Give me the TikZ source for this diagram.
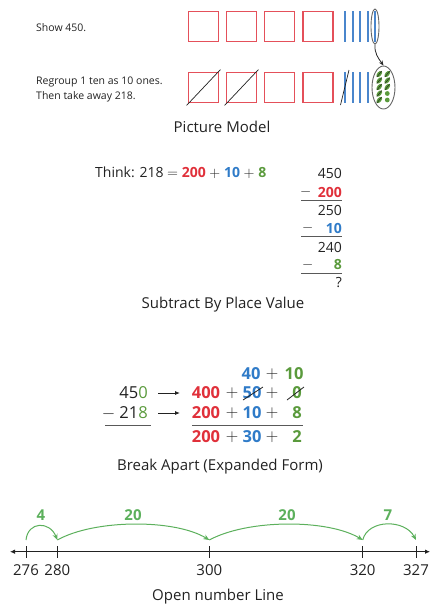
\documentclass[tikz,border=0pt]{standalone}
\usepackage{fontspec}
\setmainfont{Open Sans}
\usetikzlibrary{arrows.meta,shapes.geometric}
\definecolor{tenred}{HTML}{E4505A}
\definecolor{numred}{HTML}{E0303A}
\definecolor{numblue}{HTML}{2F7BC8}
\definecolor{numgreen}{HTML}{5A9A3C}
\definecolor{arcgreen}{HTML}{5CB05C}
\definecolor{rodblue}{HTML}{4A86CC}
\definecolor{ink}{HTML}{222222}
\newcommand{\rd}[1]{\textcolor{numred}{\bfseries #1}}
\newcommand{\bl}[1]{\textcolor{numblue}{\bfseries #1}}
\newcommand{\gr}[1]{\textcolor{numgreen}{\bfseries #1}}
\newcommand{\mns}{\ensuremath{-}}
\newcommand{\pls}{\ensuremath{+}}
\begin{document}
\begin{tikzpicture}[x=1pt,y=-1pt,
  every node/.style={text=ink, inner sep=0pt},
  hund/.style={draw=tenred, line width=1.8pt, minimum size=30pt, inner sep=0pt},
  rod/.style={draw=rodblue, line width=2pt},
  note/.style={font=\fontsize{10.5}{12}\selectfont, anchor=west},
  title/.style={font=\fontsize{15}{17}\selectfont},
  calc/.style={font=\fontsize{14}{16}\selectfont},
  numl/.style={font=\fontsize{15}{17}\selectfont},
  big/.style={font=\fontsize{16.5}{18}\selectfont},
  strike/.style={draw=ink, line width=0.7pt},
  rule/.style={draw=gray!70!black, line width=0.8pt},
  arc/.style={draw=arcgreen, line width=1pt, -{Stealth[length=6pt,width=5pt]}},
  jump/.style={font=\fontsize{15}{17}\selectfont\bfseries, text=arcgreen},
  tick/.style={draw=ink, line width=0.9pt},
  leaf/.style={fill=numgreen, ellipse, minimum width=4.2pt, minimum height=7.5pt, rotate=-40},
  dot/.style={fill=numgreen, circle, minimum size=4.8pt}
]
\useasboundingbox (0,0) rectangle (432,606);

% ---------- Picture model ----------
\node[note] (show) at (36,28) {Show 450.};
\node[note] (regroup) at (36,82) {Regroup 1 ten as 10 ones.};
\node[note] (take) at (36,97) {Then take away 218.};

\foreach \i/\x in {1/203.5,2/241.5,3/279.5,4/318} {
  \node[hund] (ha\i) at (\x,26.5) {};
  \node[hund] (hb\i) at (\x,87.5) {};
}
\draw[strike] (hb1.south west) ++(-1,2) -- ([shift={(1,-2)}]hb1.north east);
\draw[strike] (hb2.south west) ++(-1,2) -- ([shift={(1,-2)}]hb2.north east);

\foreach \x in {345,352.5,360,367.5,375} \draw[rod] (\x,11) -- (\x,42);
\foreach \x in {345,352.5,360,367.5} \draw[rod] (\x,72) -- (\x,103);
\draw[strike] (340.5,105) -- (349,70);

\node[draw=gray!80!black, line width=0.9pt, ellipse, minimum width=8pt, minimum height=35pt] (grp) at (375,26.5) {};
\node[draw=gray!80!black, line width=0.9pt, ellipse, minimum width=23pt, minimum height=43pt] (ones) at (383.5,87.5) {};
\draw[draw=gray!30!black, line width=0.8pt, -{Stealth[length=5pt,width=4pt]}] (grp.south) to[out=-95,in=125] (ones.north);

\foreach \y in {74,80.5,87,93.5,100} {
  \node[leaf] at (379.3,\y) {};
  \draw[strike, line width=0.45pt] (376.8,\y+3) -- (381.8,\y-3);
}
\foreach \y in {74,80.5,87} {
  \node[leaf] at (387.3,\y) {};
  \draw[strike, line width=0.45pt] (384.8,\y+3) -- (389.8,\y-3);
}
\foreach \y in {93.5,100} \node[dot] at (387.3,\y) {};

\node[title] (pm) at (222,127) {Picture Model};

% ---------- Subtract by place value ----------
\node[calc, anchor=west] (think) at (95,173) {Think: 218 \ensuremath{=} \rd{200} \pls{} \bl{10} \pls{} \gr{8}};
\node[calc, anchor=east] (s1) at (342,173) {450};
\node[calc, anchor=west] (m1) at (300,192) {\mns};
\node[calc, anchor=east] (n1) at (342,192) {\rd{200}};
\draw[rule] (301,200.5) -- (342,200.5);
\node[calc, anchor=east] (s2) at (342,210) {250};
\node[calc, anchor=west] (m2) at (302,228) {\mns};
\node[calc, anchor=east] (n2) at (342,228) {\bl{10}};
\draw[rule] (301,236.5) -- (342,236.5);
\node[calc, anchor=east] (s3) at (342,247) {240};
\node[calc, anchor=west] (m3) at (302,265) {\mns};
\node[calc, anchor=east] (n3) at (342,265) {\gr{8}};
\draw[rule] (301,273.5) -- (342,273.5);
\node[calc, anchor=east] (s4) at (342,283) {?};
\node[title] (spv) at (223,305) {Subtract By Place Value};

% ---------- Break apart ----------
\node[big] (t40) at (251,374) {\bl{40}};
\node[big] (tp) at (272,374) {\pls};
\node[big] (t10) at (294,374) {\gr{10}};

\node[big, anchor=east] (a450) at (148,393) {45\textcolor{numgreen}{0}};
\node[big, anchor=east] (a218) at (148,413) {\mns\ 21\textcolor{numgreen}{8}};
\node[big] (r400) at (206,393) {\rd{400}};
\node[big] (p1a) at (232,393) {\pls};
\node[big] (r50) at (252,393) {\bl{50}};
\node[big] (p1b) at (272,393) {\pls};
\node[big] (r0) at (297,393) {\gr{0}};
\node[big] (r200) at (206,413) {\rd{200}};
\node[big] (p2a) at (232,413) {\pls};
\node[big] (r10) at (252,413) {\bl{10}};
\node[big] (p2b) at (272,413) {\pls};
\node[big] (r8) at (297,413) {\gr{8}};
\node[big] (s200) at (206,437) {\rd{200}};
\node[big] (p3a) at (232,437) {\pls};
\node[big] (s30) at (252,437) {\bl{30}};
\node[big] (p3b) at (272,437) {\pls};
\node[big] (s2) at (297,437) {\gr{2}};
\draw[strike, line width=0.8pt] (243,400) -- (263,387);
\draw[strike, line width=0.8pt] (287,400) -- (304,387);
\draw[draw=ink, line width=0.8pt, -{Latex[length=5pt,width=4pt]}] (158,393) -- (180,393);
\draw[draw=ink, line width=0.8pt, -{Latex[length=5pt,width=4pt]}] (158,413) -- (180,413);
\draw[rule] (105,425) -- (151,425);
\draw[rule] (192,425) -- (303,425);
\node[title] (ba) at (220,467) {Break Apart (Expanded Form)};

% ---------- Open number line ----------
\draw[draw=ink, line width=0.9pt, {Latex[length=5pt,width=4.5pt]}-{Latex[length=5pt,width=4.5pt]}] (10,551.7) -- (430,551.7);
\foreach \n/\x in {276/26,280/57.3,300/209.3,320/362.7,327/416} {
  \coordinate (c\n) at (\x,540);
  \draw[tick] (\x,546) -- (\x,557.5);
  \node[numl] (l\n) at (\x,570) {\n};
}
\draw[arc] (c276) .. controls (28,521) and (50,521) .. (c280);
\draw[arc] (c280) .. controls (95,519) and (175,519) .. (c300);
\draw[arc] (c300) .. controls (248,519) and (328,519) .. (c320);
\draw[arc] (c320) .. controls (368,519) and (405,519) .. (c327);
\node[jump] (j1) at (41,515) {4};
\node[jump] (j2) at (133,515) {20};
\node[jump] (j3) at (287,515) {20};
\node[jump] (j4) at (388,515) {7};
\node[title] (onl) at (218,597) {Open number Line};
\end{tikzpicture}
\end{document}
